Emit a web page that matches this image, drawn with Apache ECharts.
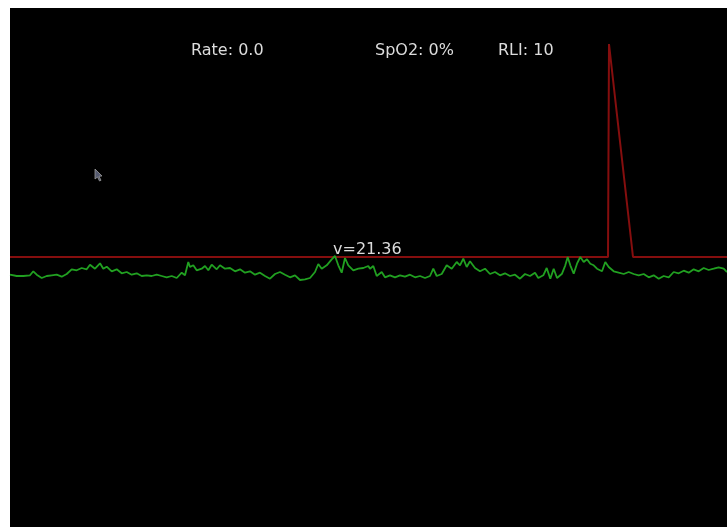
<!DOCTYPE html>
<html>
<head>
<meta charset="utf-8">
<script src="https://cdn.jsdelivr.net/npm/echarts@6/dist/echarts.min.js"></script>
<style>html,body{margin:0;padding:0;background:#fff;}#c{width:727px;height:527px;}</style>
</head>
<body>
<div id="c"></div>
<script>
// Sample times (t) and signal values (v)
const pulseT = [0,6.7,13.3,20,23.3,26.7,31.7,36.7,41.7,46.7,51.7,56.7,61.7,66.7,71.7,76.7,80,85,90,93.3,96.7,101.7,106.7,111.7,116.7,121.7,126.7,131.7,136.7,141.7,146.7,151.7,156.7,161.7,166.7,171.7,175,178.3,
180,183.3,186.7,191.7,195,198.3,201.7,206.7,210,215,220,225,230,235,240,245,250,255,260,265,270,275,280,285,290,295,300,305,308.3,311.7,316.7,321.7,325,328.3,331.7,335,338.3,343.3,348.3,353.3,358.3,
360,363.3,366.7,371.7,375,380,385,390,395,400,405,410,415,420,423.3,426.7,431.7,436.7,441.7,446.7,450,453.3,456.7,460,465,470,475,480,485,490,495,500,505,510,515,520,525,528.3,533.3,536.7,
540.3,543.7,547,552,555.3,557.7,560.3,563.7,567,570.3,573.7,577,580.3,583.7,587,592,595.3,598.7,603.7,608.7,613.7,618.7,623.7,628.7,633.7,638.7,643.7,648.7,653.7,658.7,663.7,668.7,673.7,678.7,683.7,688.7,693.7,698.7,703.7,708.7,713.7,717];
const pulseV = [252.3,251,251,251.7,255.7,252.3,249,251,251.7,252.3,250.3,253,257.7,256.7,259,257.7,262.3,258.3,263.7,258.3,260.3,255.7,257.7,253.7,255,252.3,253.7,251,251.7,251,252.3,251,249.7,251,249,254.3,251.7,265,
260,261.7,256.7,258.3,261,256.7,262.3,257.7,261.7,258.3,259,255.7,257.7,254.3,255.7,252.3,254.3,251,248.3,253,255,252.3,249.7,251.7,247,247.7,249,255,263,258.3,261.7,267.7,271,261.7,254.3,269,261.7,256.7,258.3,259,261,
258.3,261,251,255,249.7,251.7,249.7,251.7,250.3,252.3,249.7,251,249,251,258.3,251,253,261.7,258.3,265,261.7,268.3,260,265.7,259,255.7,258.3,253,255,251.7,253.7,251,252.3,248.3,253,251,254.3,249,251.7,259,
248.3,258.3,249,253.3,261.7,270,261.7,253.3,263.3,270,265,267.7,263.3,261.7,258.3,255.7,265,260,255.7,254.3,253,255,253,251.7,253,249.7,251.7,248.3,251,249.7,255,253.7,256.3,254.3,257.7,255.7,259,257,258.3,259.7,258.3,255];
const triggerT = [0,598,599,623,717];
const triggerV = [270,270,483,270,270];
const labels = ["Rate: 0.0","SpO2: 0%","RLI: 10"];
const markerLabel = "v=21.36";

const chart = echarts.init(document.getElementById('c'));
const txt = (s,x,y)=>({type:'text',left:x,top:y,style:{text:s,fill:'#dcdcdc',font:'16px "DejaVu Sans"'},z:10});
chart.setOption({
  backgroundColor:'#fff',
  animation:false,
  grid:{left:10,top:8,right:0,bottom:0,show:true,backgroundColor:'#000',borderWidth:0},
  xAxis:{type:'value',min:0,max:717,show:false},
  yAxis:{type:'value',min:0,max:519,show:false},
  series:[
    {type:'line',data:triggerT.map((t,i)=>[t,triggerV[i]]),showSymbol:false,lineStyle:{color:'#850e0e',width:2}},
    {type:'line',data:pulseT.map((t,i)=>[t,pulseV[i]]),showSymbol:false,lineStyle:{color:'#21a021',width:1.8}}
  ],
  graphic:[
    txt(labels[0],191,43),
    txt(labels[1],375,43),
    txt(labels[2],498,43),
    txt(markerLabel,333,242),
    {type:'polygon',shape:{points:[[95,169],[95,179],[97.5,177],[99.5,181],[101,180.3],[99,176.3],[102,176]]},style:{fill:'#555a70',stroke:'#999',lineWidth:0.8},z:10}
  ]
});
</script>
</body>
</html>
